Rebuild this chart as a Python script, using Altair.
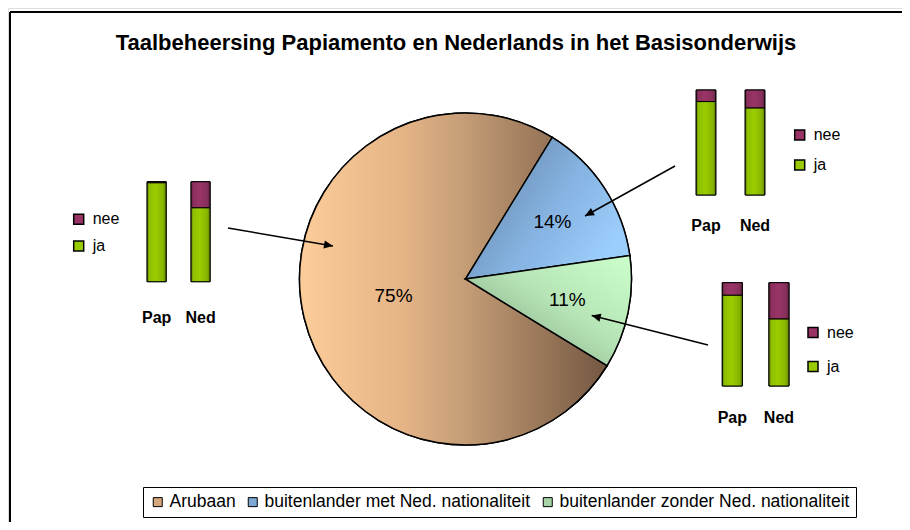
import math
import altair as alt
import pandas as pd

# ---------------- data ----------------
TITLE = "Taalbeheersing Papiamento en Nederlands in het Basisonderwijs"

pie_categories = ["Arubaan", "buitenlander met Ned. nationaliteit", "buitenlander zonder Ned. nationaliteit"]
pie_values = [75, 14, 11]
pie_labels = ["75%", "14%", "11%"]
pie_draw_order = [2, 0, 1]          # clockwise order of the slices

talen = ["Pap", "Ned"]
antwoorden = ["nee", "ja"]

ja_arubaan = [99, 74]
nee_arubaan = [1, 26]
ja_met = [89, 83]
nee_met = [11, 17]
ja_zonder = [88, 65]
nee_zonder = [12, 35]

# ---------------- layout helpers ----------------
W, H = 894, 514
FONT = "Liberation Sans"


def px(x):
    return x - 8


def py(y):
    return y - 8


dummy = pd.DataFrame({"d": [1]})

# ---------------- frame + title ----------------
frame_left = alt.Chart(dummy).mark_rule(color="black", strokeWidth=2).encode(
    x=alt.value(px(10)), y=alt.value(py(12)), y2=alt.value(H + 20))
frame_top = alt.Chart(dummy).mark_rule(color="black", strokeWidth=2).encode(
    x=alt.value(px(10)), x2=alt.value(W + 20), y=alt.value(py(12)))

title = alt.Chart(dummy).mark_text(
    text=TITLE, font=FONT, fontSize=22, fontWeight="bold", color="black",
    align="center", baseline="alphabetic").encode(
    x=alt.value(px(456)), y=alt.value(py(49.5)))

# ---------------- pie ----------------
pie_df = pd.DataFrame({"cat": pie_categories, "value": pie_values,
                       "label": pie_labels, "ord": pie_draw_order})

start = math.radians(31.5)
theta_scale = alt.Scale(domain=[0, 100], range=[start, start + 2 * math.pi])
theta = alt.Theta("value:Q", stack=True, scale=theta_scale)
order = alt.Order("ord:Q")
CX, CY, R = px(465.5), py(279), 166

grad_arubaan = {"gradient": "linear", "x1": 0, "y1": 0, "x2": 1, "y2": 0,
                "stops": [{"offset": 0, "color": "#FCCC99"},
                          {"offset": 0.33, "color": "#E6B587"},
                          {"offset": 0.55, "color": "#C29B75"},
                          {"offset": 0.8, "color": "#977558"},
                          {"offset": 1, "color": "#745842"}]}
grad_met = {"gradient": "linear", "x1": 0, "y1": 0, "x2": 1, "y2": 0.6,
            "stops": [{"offset": 0, "color": "#5C7C9C"},
                      {"offset": 0.6, "color": "#85B2E0"},
                      {"offset": 1, "color": "#9CCEFC"}]}
grad_zonder = {"gradient": "linear", "x1": 1, "y1": 0, "x2": 0, "y2": 1,
               "stops": [{"offset": 0, "color": "#CCFFCC"},
                         {"offset": 0.45, "color": "#B5E3B5"},
                         {"offset": 1, "color": "#789878"}]}

pie_base = alt.Chart(pie_df).mark_arc(outerRadius=R, stroke="black", strokeWidth=1.5).encode(
    x=alt.value(CX), y=alt.value(CY), theta=theta, order=order,
    fill=alt.Fill("cat:N",
                  scale=alt.Scale(domain=pie_categories, range=["#D3A67C", "#7FA7D6", "#A6D6A6"]),
                  legend=alt.Legend(title=None, orient="none", legendX=px(143), legendY=py(487),
                                    direction="horizontal", labelFont=FONT, labelFontSize=17.5,
                                    labelColor="black", symbolType="square", symbolSize=81,
                                    symbolStrokeColor="black", symbolStrokeWidth=1,
                                    symbolOpacity=1, labelOffset=3, columnPadding=8,
                                    padding=6, strokeColor="black", fillColor="white",
                                    labelLimit=0)))

pie_over = alt.Chart(pie_df).mark_arc(outerRadius=R, stroke="black", strokeWidth=1.5).encode(
    x=alt.value(CX), y=alt.value(CY), theta=theta, order=order,
    fill={"condition": [{"test": "datum.ord == 2", "value": grad_arubaan},
                        {"test": "datum.ord == 0", "value": grad_met}],
          "value": grad_zonder})

pie_text = alt.Chart(pie_df).transform_window(
    cum="sum(value)", sort=[alt.SortField("ord")]
).transform_calculate(
    mid="datum.cum - datum.value / 2",
    lr="datum.ord == 2 ? 74 : 104"
).mark_text(
    font=FONT, fontSize=19, color="black", align="center", baseline="middle").encode(
    x=alt.value(CX), y=alt.value(CY),
    theta=alt.Theta("mid:Q", stack=None, scale=theta_scale),
    radius=alt.Radius("lr:Q", scale=None), text="label:N")

# ---------------- arrows ----------------
ARROW_PATH = "M0,0L0.45,1L-0.45,1Z"


def arrow(x1, y1, x2, y2):
    ang = math.degrees(math.atan2(x2 - x1, -(y2 - y1))) % 360
    line = alt.Chart(dummy).mark_rule(color="black", strokeWidth=1.5).encode(
        x=alt.value(px(x1)), y=alt.value(py(y1)), x2=alt.value(px(x2)), y2=alt.value(py(y2)))
    head = alt.Chart(dummy).mark_point(shape=ARROW_PATH, size=324, filled=True, color="black",
                                        opacity=1, angle=ang, strokeWidth=0).encode(
        x=alt.value(px(x2)), y=alt.value(py(y2)))
    return [line, head]


arrows = arrow(228, 228, 333, 246) + arrow(675, 166, 585, 216) + arrow(708, 345, 591.7, 315.5)

# ---------------- mini stacked bar charts ----------------
grad_ja = {"gradient": "linear", "x1": 0, "y1": 0, "x2": 1, "y2": 0,
           "stops": [{"offset": 0, "color": "#5E7D00"},
                     {"offset": 0.12, "color": "#8FBF00"},
                     {"offset": 0.45, "color": "#9ACD00"},
                     {"offset": 0.85, "color": "#88B400"},
                     {"offset": 1, "color": "#5E7D00"}]}
grad_nee = {"gradient": "linear", "x1": 0, "y1": 0, "x2": 1, "y2": 0,
            "stops": [{"offset": 0, "color": "#5E1F3F"},
                      {"offset": 0.12, "color": "#8C2F5D"},
                      {"offset": 0.45, "color": "#9A3468"},
                      {"offset": 0.85, "color": "#86305B"},
                      {"offset": 1, "color": "#5E1F3F"}]}


def mini(ja, nee, xr, yr, label_y, lx, ly, row_pad, p_in, p_out):
    df = pd.DataFrame({"taal": talen + talen,
                       "antwoord": ["ja", "ja", "nee", "nee"],
                       "waarde": ja + nee,
                       "ord": [0, 0, 1, 1]})
    x = alt.X("taal:N", sort=talen, axis=None,
              scale=alt.Scale(domain=talen, range=[px(xr[0]), px(xr[1])],
                              paddingInner=p_in, paddingOuter=p_out))
    y = alt.Y("waarde:Q", stack=True, axis=None,
              scale=alt.Scale(domain=[0, 100], range=[py(yr[0]), py(yr[1])], nice=False, zero=True))
    base = alt.Chart(df).mark_bar(stroke="black", strokeWidth=1).encode(
        x=x, y=y, order=alt.Order("ord:Q"),
        fill=alt.Fill("antwoord:N",
                      scale=alt.Scale(domain=antwoorden, range=["#993366", "#99CC00"]),
                      legend=alt.Legend(title=None, orient="none", legendX=px(lx), legendY=py(ly),
                                        direction="vertical", labelFont=FONT, labelFontSize=16,
                                        labelColor="black", symbolType="square", symbolSize=100,
                                        symbolStrokeColor="black", symbolStrokeWidth=1.5,
                                        symbolOpacity=1, labelOffset=6, rowPadding=row_pad,
                                        padding=0)))
    over = alt.Chart(df).mark_bar(stroke="black", strokeWidth=1).encode(
        x=x, y=y, order=alt.Order("ord:Q"),
        fill=alt.condition("datum.antwoord === 'ja'", alt.value(grad_ja), alt.value(grad_nee)))
    labels = alt.Chart(pd.DataFrame({"taal": talen})).mark_text(
        font=FONT, fontSize=16, fontWeight="bold", color="black",
        align="center", baseline="middle").encode(
        x=x, y=alt.value(py(label_y)), text="taal:N")
    return alt.layer(base, over, labels)


mini_arubaan = mini(ja_arubaan, nee_arubaan, (134.7, 222.5), (281.7, 181.7), 318,
                    70.7, 211.3, 10.7, 0.567, 0.283)
mini_met = mini(ja_met, nee_met, (681.5, 779.5), (195, 90), 226,
                791.7, 127, 14, 0.6, 0.3)
mini_zonder = mini(ja_zonder, nee_zonder, (709, 802.3), (386, 282.7), 418,
                   805, 324.5, 18, 0.57, 0.285)

chart = alt.layer(
    frame_left, frame_top, title, pie_base, pie_over, pie_text, *arrows,
    mini_arubaan, mini_met, mini_zonder
).resolve_scale(
    x="independent", y="independent", fill="independent"
).properties(
    width=W, height=H, padding=0, autosize=alt.AutoSizeParams(type="none")
).configure_view(strokeWidth=0).configure(font=FONT)

chart.save("out.html", embed_options={"renderer": "svg", "actions": False})
